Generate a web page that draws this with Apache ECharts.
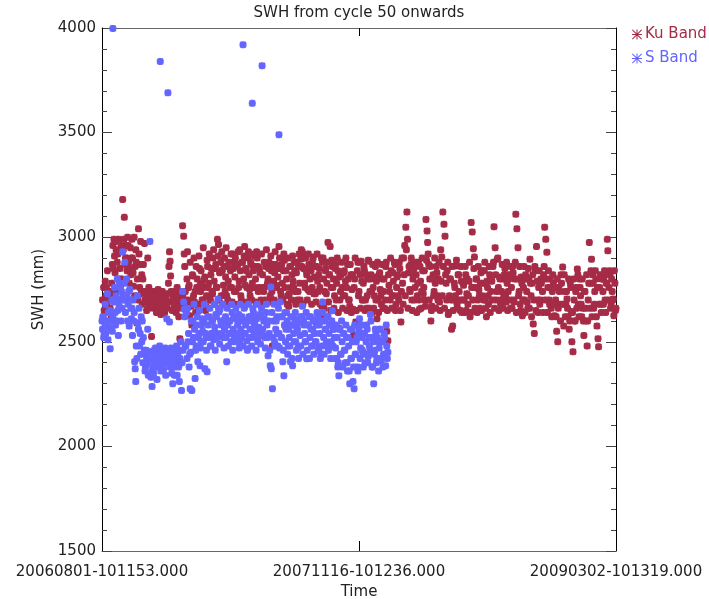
<!DOCTYPE html>
<html>
<head>
<meta charset="utf-8">
<script src="https://cdn.jsdelivr.net/npm/echarts@6/dist/echarts.min.js"></script>
<style>
  html, body { margin: 0; padding: 0; background: #fff; }
  #chart { width: 709px; height: 599px; }
</style>
</head>
<body>
<div id="chart"></div>
<script>
// x = days since 20060801-101153, y = SWH in mm
const tickLabels = ['20060801-101153.000', '20071116-101236.000', '20090302-101319.000']
const dayMax = 944

const kuBand = [
  [1,2700],[3,2760],[4,2650],[6,2790],[7,2720],[9,2680],[10,2840],[12,2700],[14,2740],[15,2660],[17,2620],[18,2780],
  [19,2870],[20,2960],[22,2990],[23,2910],[24,2830],[26,2940],[27,2750],[28,2880],[30,2990],[31,2700],[33,2850],[34,2930],[36,2800],
  [38,3180],[40,2990],[41,3095],[43,2900],[44,2960],[46,2840],[47,3000],[49,2880],[50,2780],[52,2950],[53,2820],[55,2990],
  [56,2900],[58,2765],[59,3000],[61,2860],[62,2940],[64,2590],[65,2800],[67,3040],[68,2920],[70,2870],[71,2980],[73,2820],
  [75,2800],[76,2870],[78,2970],[79,2700],[81,2740],[82,2650],[84,2900],[86,2760],[87,2680],[89,2720],[91,2525],[92,2690],
  [94,2740],[95,2660],[97,2700],[98,2720],[100,2640],[101,2690],[103,2750],[105,2670],[106,2710],[108,2630],[109,2700],
  [111,2740],[113,2680],[115,2640],[116,2720],[118,2700],[120,2660],[122,2780],[124,2930],[125,2885],[126,2815],[128,2690],
  [130,2720],[132,2660],[134,2700],[136,2640],[138,2760],[139,2705],[141,2620],[143,2515],[145,2680],[146,2740],
  [148,3055],[150,3005],[151,2920],[153,2740],[154,2660],[156,2800],[158,2700],[160,2770],[161,2625],[163,2690],[165,2580],
  [167,2815],[168,2720],[170,2690],[172,2640],[174,2760],[175,2800],[177,2670],[179,2850],[181,2740],[183,2780],
  [185,2700],[187,2760],[189,2810],[190,2650],[192,2720],[194,2860],[196,2780],[198,2700],[200,2820],[202,2740],[204,2900],[206,2790],[208,2850],[210,2760],[212,2990],[214,2965],[216,2830],[218,2880],[219,2720],
  [221,2840],[223,2770],[225,2900],[227,2810],[229,2720],[230,2860],[232,2790],[234,2680],[236,2840],[238,2760],[240,2920],[242,2880],[244,2810],[246,2740],[248,2860],[250,2930],[252,2790],[254,2840],[256,2700],
  [258,2880],[260,2800],[262,2955],[264,2850],[266,2760],[268,2900],[270,2820],[272,2720],[274,2870],[276,2780],[278,2840],[280,2910],[282,2800],[284,2930],[286,2860],[288,2760],[290,2830],[292,2700],
  [295,2820],[297,2740],[299,2690],[301,2860],[303,2765],[305,2800],[307,2880],[309,2720],[311,2840],[313,2480],[315,2790],[317,2830],[319,2870],[321,2760],[323,2810],[325,2955],[327,2850],[329,2720],[331,2780],
  [333,2840],[335,2890],[337,2575],[339,2800],[341,2720],[343,2670],[345,2860],[347,2760],[349,2820],[351,2790],[353,2880],[355,2740],[357,2830],[359,2700],[361,2860],[363,2780],[365,2895],[366,2940],
  [368,2930],[370,2850],[372,2780],[374,2900],[376,2820],[378,2750],[380,2870],[382,2800],[384,2840],[386,2760],[388,2905],[390,2810],[392,2730],[394,2860],[396,2790],[398,2820],[400,2760],[402,2625],[404,2670],
  [405,2880],[407,2800],[409,2740],[411,2850],[413,2780],[415,2975],[417,2820],[419,2955],[421,2760],[423,2860],[425,2800],[427,2720],[429,2870],[431,2780],[433,2840],[435,2565],[437,2700],[439,2820],[441,2760],
  [443,2720],[445,2840],[447,2790],[449,2760],[451,2870],[453,2700],[455,2670],[457,2820],[459,2750],[461,2655],[462,2530],[464,2800],[466,2595],[468,2530],[470,2880],[472,2740],[474,2820],[476,2885],[478,2700],
  [480,2780],[482,2840],[484,2700],[486,2660],[488,2800],[490,2885],[492,2740],[494,2820],[496,2640],[498,2760],[500,2720],[502,2860],[504,2790],[505,2610],[507,2700],[509,2820],[511,2750],[513,2680],
  [515,2800],[517,2740],[519,2660],[521,2860],[523,2550],[525,2505],[527,2770],[529,2700],[531,2840],[533,2720],[535,2790],[537,2880],[539,2650],[541,2760],[543,2820],[545,2700],[547,2850],[549,2595],[550,2740],
  [552,2780],[554,2900],[556,2960],[558,3048],[560,3120],[561,2990],[563,2830],[565,2750],[567,2870],[569,2700],[571,2800],[573,2850],[575,2760],[577,2820],[579,2720],[581,2880],[583,2655],[585,2790],[587,2740],
  [589,2840],[591,2760],[593,2700],[595,3085],[597,3030],[598,2975],[600,2870],[602,2800],[604,2600],[606,2670],[608,2820],[610,2740],[612,2780],[614,2860],[616,2720],[618,2800],[620,2690],[622,2940],[624,2905],
  [626,3120],[628,3062],[630,3005],[632,2780],[634,2840],[636,2630],[638,2720],[640,2800],[642,2560],[644,2575],[646,2700],[648,2760],[650,2862],[652,2680],[654,2820],[656,2740],[658,2650],[660,2790],
  [662,2700],[664,2770],[666,2640],[668,2820],[670,2730],[672,2680],[674,2790],[676,2620],[678,3070],[680,3025],[682,2945],[684,2905],[686,2760],[688,2800],[690,2700],[692,2750],[694,2660],[696,2830],[698,2720],
  [700,2780],[702,2840],[704,2700],[706,2620],[708,2760],[710,2680],[712,2820],[714,2740],[716,2790],[718,2860],[720,3050],[722,2950],[724,2700],[726,2895],[728,2760],[730,2810],[732,2680],[734,2740],
  [736,2800],[738,2720],[740,2850],[742,2690],[744,2780],[746,2740],[748,2820],[750,2660],[752,2760],[754,2860],[756,2700],[758,2800],[760,3110],[762,3040],[764,2950],[766,2740],[768,2680],[770,2810],
  [772,2625],[774,2760],[776,2700],[778,2820],[780,2740],[782,2660],[784,2800],[786,2895],[788,2720],[790,2780],[792,2585],[794,2540],[796,2840],[798,2955],[800,2700],[802,2760],[804,2680],[806,2800],
  [809,2740],[811,2820],[813,3048],[815,2990],[817,2928],[819,2760],[821,2700],[823,2800],[825,2660],[827,2740],[829,2780],[831,2625],[833,2700],[835,2550],[837,2500],[839,2760],[841,2680],[843,2820],
  [846,2857],[848,2575],[850,2740],[852,2680],[854,2705],[856,2620],[858,2560],[860,2780],[862,2645],[863,2500],[865,2452],[867,2700],[869,2600],[871,2760],[873,2848],[875,2680],[877,2800],[879,2720],[881,2620],
  [883,2660],[885,2530],[887,2740],[889,2600],[891,2480],[893,2700],[895,2975],[897,2780],[899,2895],[901,2820],[903,2660],[905,2740],[907,2800],[909,2575],[911,2515],[912,2476],[914,2760],[916,2680],
  [918,2800],[920,2740],[922,2810],[924,2700],[926,2780],[928,2990],[929,2935],[931,2760],[933,2820],[935,2680],[937,2740],[939,2705],[940,2625],[942,2780],[943,2650],
  // second pass through the band
  [2,2620],[8,2760],[11,2700],[16,2730],[21,2850],[25,2980],[29,2920],[32,2800],[35,2960],[39,2940],[42,2870],[45,2900],[48,2960],[51,2850],[54,2900],[57,2830],
  [60,2720],[63,2880],[66,2700],[69,2760],[72,2730],[74,2680],[77,2740],[80,2690],[83,2720],[85,2660],[88,2700],[90,2740],[93,2680],[96,2720],[99,2700],[102,2660],[104,2730],[107,2690],[110,2720],[112,2650],[114,2700],[117,2680],[119,2730],[121,2690],[123,2860],[127,2740],[129,2650],[131,2700],[133,2740],[135,2680],[137,2720],[140,2660],[142,2700],[144,2730],[147,2690],[149,2710],
  [152,2860],[155,2690],[157,2930],[159,2760],[162,2880],[164,2670],[166,2820],[169,2900],[171,2740],[173,2860],[176,2680],[178,2910],[180,2770],[182,2840],[184,2700],[186,2950],[188,2800],[191,2670],[193,2890],[195,2760],[197,2920],[199,2700],[201,2850],[203,2730],[205,2940],[207,2680],[209,2870],[211,2760],[213,2910],[215,2700],[217,2840],[220,2930],[222,2680],[224,2860],[226,2740],[228,2950],[231,2700],[233,2880],[235,2760],[237,2920],[239,2690],[241,2850],[243,2740],[245,2900],[247,2680],[249,2870],
  [251,2760],[253,2940],[255,2720],[257,2880],[259,2680],[261,2910],[263,2770],[265,2840],[267,2690],[269,2930],[271,2750],[273,2880],[275,2700],[277,2920],[279,2760],[281,2860],[283,2690],[285,2900],[287,2740],[289,2850],[291,2680],[293,2920],[296,2760],[298,2880],[300,2700],[302,2940],[304,2780],[306,2850],[308,2690],[310,2910],[312,2740],[314,2870],[316,2700],[318,2930],[320,2770],[322,2850],[324,2690],[326,2900],[328,2740],[330,2870],[332,2700],[334,2920],[336,2760],[338,2840],[340,2680],[342,2900],[344,2730],[346,2860],[348,2700],[350,2910],
  [352,2760],[354,2840],[356,2680],[358,2880],[360,2740],[362,2920],[364,2700],[367,2860],[369,2680],[371,2900],[373,2760],[375,2840],[377,2700],[379,2920],[381,2740],[383,2860],[385,2680],[387,2890],[389,2730],[391,2860],[393,2690],[395,2920],[397,2740],[399,2850],[401,2680],[403,2900],
  [406,2900],[408,2660],[410,2840],[412,2730],[414,2880],[416,2690],[418,2820],[420,2650],[422,2890],[424,2760],[426,2660],[428,2850],[430,2700],[432,2900],[434,2640],[436,2810],[438,2740],[440,2880],[442,2660],[444,2830],[446,2720],[448,2900],[450,2650],[452,2800],[454,2700],[456,2870],[458,2640],[460,2820],[463,2760],[465,2900],[467,2650],[469,2840],[471,2720],[473,2880],[475,2660],[477,2790],
  [479,2700],[481,2860],[483,2650],[485,2820],[487,2720],[489,2890],[491,2660],[493,2800],[495,2740],[497,2870],[499,2660],[501,2810],[503,2700],[506,2880],[508,2640],[510,2830],[512,2720],[514,2870],[516,2660],[518,2800],[520,2700],[522,2880],[524,2650],[526,2820],[528,2740],[530,2900],[532,2660],[534,2830],[536,2720],[538,2870],[540,2680],[542,2810],[544,2720],[546,2880],[548,2650],
  [551,2900],[553,2680],[555,2820],[557,2720],[559,2940],[562,2660],[564,2860],[566,2740],[568,2900],[570,2650],[572,2820],[574,2700],[576,2880],[578,2640],[580,2780],[582,2700],[584,2860],[586,2660],[588,2900],[590,2730],[592,2840],[594,2670],[596,2890],[599,2920],[601,2700],[603,2860],[605,2650],[607,2800],[609,2720],[611,2900],[613,2660],[615,2830],[617,2700],[619,2880],[621,2650],[623,2790],[625,2720],[627,2860],[629,2660],[631,2820],[633,2700],[635,2880],[637,2640],[639,2800],[641,2700],[643,2860],[645,2650],[647,2780],[649,2720],[651,2890],[653,2660],[655,2820],[657,2700],[659,2860],
  [661,2640],[663,2780],[665,2700],[667,2860],[669,2650],[671,2800],[673,2720],[675,2880],[677,2640],[679,2760],[681,2700],[683,2850],[685,2660],[687,2800],[689,2640],[691,2860],[693,2720],[695,2780],[697,2650],[699,2840],[701,2700],[703,2880],[705,2660],[707,2790],[709,2720],[711,2860],[713,2640],[715,2800],[717,2700],[719,2880],[721,2660],[723,2820],[725,2740],[727,2900],[729,2650],[731,2800],[733,2700],[735,2870],[737,2660],[739,2820],[741,2720],[743,2880],[745,2650],[747,2800],[749,2700],[751,2860],[753,2660],[755,2830],[757,2690],[759,2880],[761,2640],[763,2800],[765,2720],[767,2860],[769,2650],[771,2780],
  [773,2700],[775,2860],[777,2640],[779,2800],[781,2690],[783,2850],[785,2660],[787,2780],[789,2620],[791,2820],[793,2700],[795,2860],[797,2650],[799,2790],[801,2640],[803,2840],[805,2700],[807,2780],[810,2640],[812,2860],[814,2700],[816,2800],[818,2640],[820,2840],[822,2680],[824,2760],[826,2620],[828,2820],[830,2680],[832,2760],[834,2620],[836,2800],[838,2660],[840,2740],[842,2600],[844,2780],
  [847,2680],[849,2820],[851,2620],[853,2740],[855,2660],[857,2800],[859,2600],[861,2760],[864,2640],[866,2800],[868,2600],[870,2740],[872,2660],[874,2820],[876,2620],[878,2760],[880,2680],[882,2800],[884,2600],[886,2740],[888,2660],[890,2820],[892,2600],[894,2780],[896,2660],[898,2840],[900,2620],[902,2780],[904,2680],[906,2840],[908,2620],[910,2760],[913,2680],[915,2820],[917,2640],[919,2800],[921,2680],[923,2840],[925,2640],[927,2780],[930,2700],[932,2840],[934,2660],[936,2800],[938,2700],[941,2840],[944,2660]
]

const sBand = [
  [20,3998],[107,3840],[121,3690],[259,3920],[276,3640],[294,3820],[325,3490],
  [1,2560],[2,2620],[3,2520],[5,2590],[6,2680],[7,2540],[9,2600],[10,2730],[11,2510],[13,2570],[14,2650],[15,2467],[16,2600],[18,2700],
  [19,2550],[20,2620],[22,2690],[23,2760],[25,2580],[26,2720],[28,2800],[29,2650],[30,2530],[32,2780],[33,2700],[35,2600],[36,2740],
  [38,2930],[40,2700],[42,2880],[43,2640],[45,2800],[46,2720],[48,2680],[50,2575],[51,2750],[53,2660],[54,2610],
  [56,2530],[57,2700],[59,2640],[60,2405],[61,2371],[62,2310],[63,2480],[65,2720],[66,2590],[68,2660],[70,2540],[72,2620],
  [74,2600],[76,2520],[78,2460],[80,2380],[82,2420],[84,2560],[86,2450],[88,2980],[89,2452],[90,2330],[91,2357],[92,2286],
  [94,2410],[95,2350],[97,2440],[98,2470],[100,2380],[101,2320],[103,2430],[105,2400],[106,2480],[108,2360],[109,2450],
  [111,2420],[113,2370],[115,2460],[117,2340],[119,2610],[120,2400],[122,2440],[124,2595],[125,2380],[127,2470],[128,2350],
  [130,2300],[132,2420],[134,2380],[136,2450],[138,2340],[140,2400],[142,2310],[144,2460],[146,2267],
  [148,2740],[150,2690],[151,2655],[153,2480],[155,2640],[156,2420],[158,2500],[160,2380],[162,2276],[163,2450],[165,2267],
  [167,2600],[168,2520],[170,2560],[171,2324],[173,2480],[175,2620],[176,2405],[178,2540],[180,2386],[182,2500],[183,2580],
  [185,2550],[187,2600],[189,2371],[191,2520],[193,2357],[195,2580],[197,2620],[199,2480],[201,2540],[203,2600],[205,2510],[207,2570],[209,2630],[211,2540],[213,2705],[215,2643],[217,2657],[219,2580],
  [221,2600],[223,2520],[225,2560],[227,2620],[229,2405],[231,2580],[233,2540],[235,2600],[237,2500],[239,2640],[241,2560],[243,2520],[245,2610],[247,2540],[249,2580],[251,2630],[253,2500],[255,2560],
  [258,2600],[260,2540],[262,2667],[264,2580],[266,2505],[268,2467],[270,2620],[272,2560],[274,2600],[276,2520],[278,2640],[280,2580],[282,2550],[284,2610],[286,2500],[288,2570],[290,2630],[292,2540],
  [295,2560],[297,2600],[299,2520],[301,2640],[303,2580],[305,2433],[307,2540],[309,2386],[310,2762],[311,2371],[313,2276],[315,2600],[317,2500],[319,2560],[321,2620],[323,2480],[325,2540],[327,2690],[329,2520],
  [332,2405],[334,2338],[336,2640],[338,2560],[340,2600],[342,2480],[344,2520],[346,2405],[348,2580],[350,2386],[352,2540],[354,2610],[356,2500],[358,2560],[360,2470],[362,2590],[364,2530],[366,2620],
  [368,2670],[370,2600],[372,2540],[374,2500],[376,2419],[378,2580],[380,2620],[382,2520],[384,2560],[386,2480],[388,2600],[390,2540],[392,2500],[394,2580],[396,2620],[398,2470],[400,2540],[402,2443],
  [405,2690],[407,2520],[409,2600],[411,2560],[413,2480],[415,2620],[417,2540],[419,2580],[421,2500],[423,2648],[425,2560],[427,2520],[429,2470],[431,2420],[433,2380],[435,2338],[437,2560],[439,2440],[441,2500],
  [443,2540],[445,2460],[447,2400],[449,2520],[451,2360],[453,2480],[455,2300],[457,2420],[459,2560],[461,2310],[463,2276],[465,2440],[467,2500],[469,2380],[471,2540],[473,2610],[475,2470],[477,2520],
  [479,2450],[481,2540],[483,2400],[485,2500],[487,2560],[489,2430],[491,2480],[493,2630],[495,2520],[497,2380],[499,2300],[501,2460],[503,2540],[505,2420],[507,2500],[509,2470],[511,2560],[513,2410],[515,2500],[517,2440],[519,2520],[521,2386],[523,2480],[525,2450],
  // second pass through the band
  [0,2600],[4,2540],[8,2580],[12,2640],[17,2560],[21,2700],[24,2640],[27,2600],[31,2680],[34,2760],[37,2660],[39,2720],[41,2780],[44,2700],[47,2600],[49,2740],[52,2700],[55,2660],[58,2600],
  [64,2420],[67,2560],[69,2480],[71,2440],[73,2500],[75,2400],[77,2440],[79,2360],[81,2460],[83,2400],[85,2340],[87,2420],[93,2380],[96,2460],[99,2420],[102,2390],[104,2460],[107,2420],[110,2380],[112,2440],[114,2400],[116,2470],[118,2420],[121,2460],[123,2400],[126,2430],[129,2400],[131,2460],[133,2340],[135,2420],[137,2480],[139,2440],[141,2380],[143,2420],[145,2500],[147,2400],[149,2460],
  [152,2620],[154,2480],[157,2660],[159,2540],[161,2440],[164,2600],[166,2500],[169,2680],[172,2460],[174,2580],[177,2520],[179,2650],[181,2470],[184,2610],[186,2500],[188,2680],[190,2540],[192,2460],[194,2620],[196,2520],[198,2660],[200,2480],[202,2600],[204,2540],[206,2680],[208,2460],[210,2620],[212,2520],[214,2660],[216,2490],[218,2600],[220,2540],[222,2680],[224,2470],[226,2610],[228,2520],[230,2660],[232,2480],[234,2600],[236,2540],[238,2680],[240,2460],
  [242,2620],[244,2500],[246,2660],[248,2530],[250,2600],[252,2470],[254,2680],[256,2520],[257,2620],[259,2480],[261,2660],[263,2540],[265,2600],[267,2460],[269,2680],[271,2520],[273,2620],[275,2480],[277,2660],[279,2540],[281,2600],[283,2460],[285,2680],[287,2520],[289,2620],[291,2490],[293,2660],[296,2530],[298,2610],[300,2470],[302,2680],[304,2520],[306,2600],[308,2460],[312,2640],[314,2520],[316,2680],[318,2480],[320,2600],[322,2540],[324,2660],[326,2470],[328,2620],[330,2520],
  [331,2620],[333,2460],[335,2580],[337,2500],[339,2640],[341,2440],[343,2560],[345,2480],[347,2620],[349,2420],[351,2580],[353,2500],[355,2640],[357,2460],[359,2560],[361,2420],[363,2600],[365,2480],[367,2620],[369,2440],[371,2580],[373,2500],[375,2640],[377,2460],[379,2580],[381,2420],[383,2620],[385,2480],[387,2560],[389,2440],[391,2600],[393,2500],[395,2640],[397,2460],[399,2580],[401,2420],[403,2600],[404,2480],[406,2640],[408,2440],[410,2560],[412,2500],[414,2620],[416,2460],[418,2580],[420,2420],[422,2600],[424,2480],[426,2560],[428,2420],[430,2580],
  [432,2520],[434,2400],[436,2560],[438,2440],[440,2600],[442,2380],[444,2540],[446,2460],[448,2580],[450,2400],[452,2520],[454,2360],[456,2560],[458,2420],[460,2500],[462,2380],[464,2580],[466,2440],[468,2520],[470,2360],[472,2560],[474,2420],[476,2580],[478,2460],[480,2380],[482,2540],[484,2440],[486,2580],[488,2400],[490,2520],[492,2460],[494,2600],[496,2380],[498,2500],[500,2440],[502,2560],[504,2400],[506,2520],[508,2360],[510,2560],[512,2420],[514,2500],[516,2380],[518,2540],[520,2440],[522,2580],[524,2420]
]

const kuColor = '#a52b46'
const sColor = '#6464ff'
const font = 'DejaVu Sans'

// fat asterisk for the points, thin one for the legend
const markPath = 'path://M0,3L10,3L10,7L0,7Z M3,0L7,0L7,10L3,10Z M2,0L10,8L8,10L0,2Z M8,0L10,2L2,10L0,8Z'
const legendPath = 'path://M0,4.5L10,4.5L10,5.5L0,5.5Z M4.5,0L5.5,0L5.5,10L4.5,10Z M0.7,0L10,9.3L9.3,10L0,0.7Z M9.3,0L10,0.7L0.7,10L0,9.3Z'

const chart = echarts.init(document.getElementById('chart'))

const yBase = {
  type: 'value',
  min: 1500,
  max: 4000,
  interval: 500,
  splitLine: { show: false },
  axisLine: { show: true, onZero: false, lineStyle: { color: '#000', width: 1 } },
  axisTick: { show: true, inside: true, length: 10, lineStyle: { color: '#444' } },
  minorTick: { show: true, splitNumber: 5, length: 5, lineStyle: { color: '#444' } }
}

const xBase = {
  type: 'value',
  min: 0,
  max: dayMax,
  interval: dayMax / 2,
  splitLine: { show: false },
  axisLine: { show: true, onZero: false, lineStyle: { color: '#666', width: 1 } },
  axisTick: { show: true, inside: true, length: 10, lineStyle: { color: '#000' } }
}

chart.setOption({
  backgroundColor: '#fff',
  animation: false,
  title: {
    text: 'SWH from cycle 50 onwards',
    left: 359,
    textAlign: 'center',
    top: 6,
    padding: 0,
    textStyle: { fontFamily: font, fontSize: 15, fontWeight: 'normal', color: '#222' }
  },
  legend: {
    orient: 'vertical',
    left: 627,
    top: 22,
    itemWidth: 10,
    itemHeight: 10,
    itemGap: 9,
    icon: legendPath,
    textStyle: { fontFamily: font, fontSize: 15, padding: [0, 0, 0, -2] },
    data: [
      { name: 'Ku Band', textStyle: { color: kuColor } },
      { name: 'S Band', textStyle: { color: sColor } }
    ]
  },
  grid: { left: 102, right: 93, top: 28, bottom: 48, outerBoundsMode: 'none' },
  xAxis: [
    Object.assign({}, xBase, {
      position: 'bottom',
      name: 'Time',
      nameLocation: 'middle',
      nameGap: 34,
      nameTextStyle: { fontFamily: font, fontSize: 15, color: '#222' },
      axisLabel: {
        show: true,
        margin: 14,
        showMinLabel: true,
        showMaxLabel: true,
        fontFamily: font,
        fontSize: 15,
        color: '#222',
        formatter: v => tickLabels[Math.round(v / (dayMax / 2))]
      }
    }),
    Object.assign({}, xBase, {
      position: 'top',
      axisLabel: { show: false },
      axisTick: { show: true, inside: true, length: 8, lineStyle: { color: '#000' } }
    })
  ],
  yAxis: [
    Object.assign({}, yBase, {
      position: 'left',
      name: 'SWH (mm)',
      nameLocation: 'middle',
      nameGap: 50,
      nameTextStyle: { fontFamily: font, fontSize: 15, color: '#222' },
      axisLabel: { show: true, margin: 6, fontFamily: font, fontSize: 15, color: '#222', formatter: v => String(v) }
    }),
    Object.assign({}, yBase, {
      position: 'right',
      axisLabel: { show: false }
    })
  ],
  series: [
    {
      name: 'Ku Band',
      type: 'scatter',
      xAxisIndex: 0,
      yAxisIndex: 0,
      symbol: markPath,
      symbolSize: 7,
      itemStyle: { color: kuColor, opacity: 1 },
      data: kuBand
    },
    {
      name: 'S Band',
      type: 'scatter',
      xAxisIndex: 0,
      yAxisIndex: 0,
      symbol: markPath,
      symbolSize: 7,
      itemStyle: { color: sColor, opacity: 1 },
      data: sBand
    }
  ]
})
</script>
</body>
</html>
